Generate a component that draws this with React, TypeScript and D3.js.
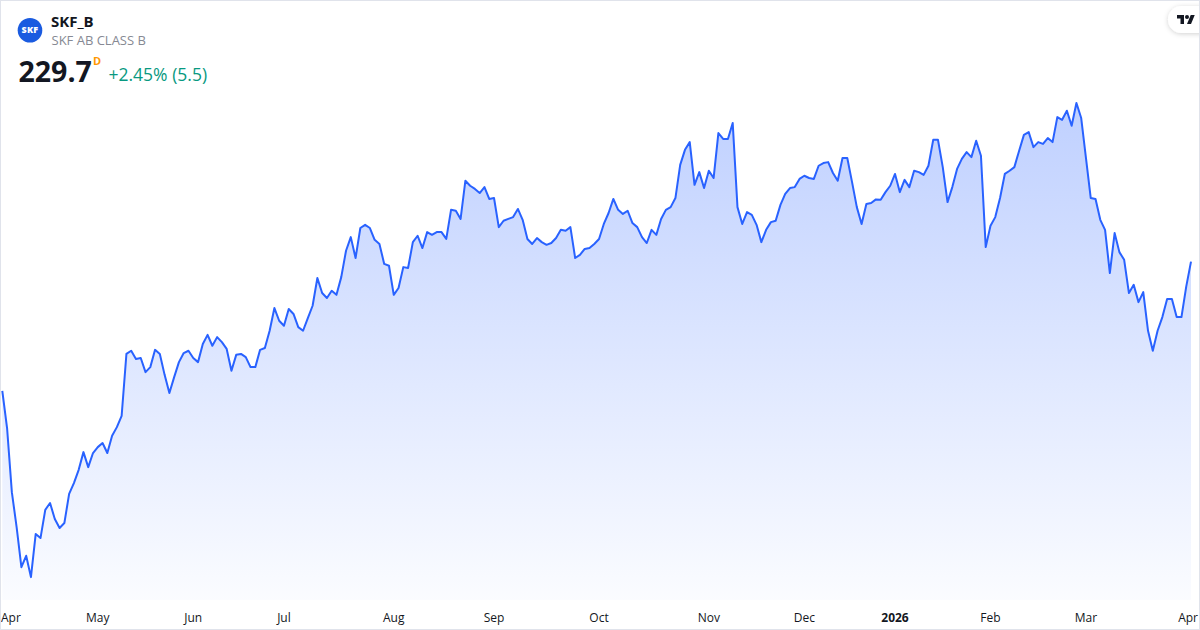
import React from "react";
import * as d3 from "d3";

// Daily closes (SEK), Apr 2025 – Apr 2026, one per trading day
const closes: number[] = [
  201.3, 193.1, 179.0, 171.3, 162.5, 165.0, 160.3, 169.8, 168.9, 175.1,
  176.6, 173.1, 171.1, 172.2, 178.6, 181.0, 183.9, 187.8, 184.5, 187.6,
  188.9, 189.8, 187.6, 191.4, 193.3, 195.8, 209.4, 210.1, 208.3, 208.5,
  205.4, 206.5, 210.3, 209.4, 204.8, 200.8, 204.3, 207.6, 209.6, 210.1,
  208.5, 207.6, 211.6, 213.6, 211.2, 213.1, 212.0, 210.5, 205.7, 209.2,
  209.4, 208.7, 206.5, 206.5, 210.3, 210.7, 214.5, 219.5, 216.7, 215.6,
  219.3, 218.2, 215.3, 214.5, 217.3, 220.0, 226.1, 222.8, 221.7, 223.3,
  222.4, 226.3, 232.1, 235.1, 230.5, 237.1, 237.8, 237.1, 234.5, 233.6,
  229.2, 228.8, 222.4, 223.9, 228.5, 228.3, 234.0, 235.4, 232.7, 236.2,
  235.6, 236.2, 236.2, 234.7, 241.1, 240.9, 239.1, 247.5, 246.4, 245.7,
  244.8, 246.1, 243.5, 243.7, 237.3, 238.7, 239.1, 239.5, 241.3, 238.9,
  234.7, 233.6, 234.9, 234.0, 233.4, 233.8, 234.9, 236.7, 236.5, 237.3,
  230.5, 231.2, 232.5, 232.7, 233.6, 234.7, 238.0, 240.4, 243.5, 241.1,
  240.2, 240.9, 238.2, 237.3, 235.1, 233.8, 236.7, 235.6, 239.1, 241.1,
  241.7, 243.7, 251.0, 254.3, 256.0, 246.6, 249.4, 245.9, 249.7, 248.1,
  258.0, 256.7, 256.7, 260.2, 241.7, 238.0, 240.6, 240.0, 237.8, 234.0,
  236.7, 238.4, 238.7, 242.2, 244.6, 245.9, 246.1, 247.9, 248.6, 248.1,
  247.9, 250.8, 251.4, 251.6, 249.2, 247.5, 252.5, 252.5, 247.2, 241.7,
  238.0, 242.4, 242.6, 243.4, 243.3, 245.0, 246.4, 249.0, 245.0, 247.7,
  246.1, 249.7, 249.4, 248.8, 250.8, 256.5, 256.5, 250.5, 242.8, 246.1,
  250.1, 252.3, 253.8, 252.7, 256.3, 253.0, 232.9, 237.6, 239.5, 243.7,
  249.0, 249.7, 250.5, 254.1, 257.6, 258.2, 254.9, 256.0, 255.6, 256.9,
  256.0, 261.5, 260.9, 262.9, 259.6, 264.6, 261.3, 252.5, 243.7, 243.5,
  238.9, 236.7, 227.2, 236.0, 231.8, 230.1, 222.8, 224.6, 220.8, 223.0,
  214.5, 210.1, 214.5, 217.5, 221.5, 221.5, 217.5, 217.5, 224.2, 229.7,
];

// Month labels and the trading-day index at which each month starts
const tickLabels: string[] = ["Apr", "May", "Jun", "Jul", "Aug", "Sep", "Oct", "Nov", "Dec", "2026", "Feb", "Mar", "Apr"];
const tickIndices: number[] = [0, 20, 40, 59, 82, 103, 125, 148, 168, 187, 207, 227, 248];
const boldTicks: string[] = ["2026"];

const symbol = "SKF_B";
const description = "SKF AB CLASS B";
const lastPrice = "229.7";
const changeText = "+2.45% (5.5)";

const W = 1200;
const H = 630;
const FONT = "'Open Sans', 'Noto Sans', sans-serif";

export default function App() {
  const x = d3.scaleLinear().domain([0, closes.length - 1]).range([2.3, 1191]);
  const y = d3.scaleLinear().domain([160, 265]).range([578.5, 101.2]);
  const baseY = 600;

  const line = d3
    .line<number>()
    .x((_, i) => x(i))
    .y((d) => y(d));
  const area = d3
    .area<number>()
    .x((_, i) => x(i))
    .y0(baseY)
    .y1((d) => y(d));

  React.useEffect(() => {
    document.body.style.margin = "0";
  }, []);

  return (
    <svg width={W} height={H} style={{ display: "block", position: "absolute", left: 0, top: 0 }} fontFamily={FONT}>
      <defs>
        <linearGradient id="fillGrad" x1="0" y1="100" x2="0" y2={baseY} gradientUnits="userSpaceOnUse">
          <stop offset="0" stopColor="#2962ff" stopOpacity={0.3} />
          <stop offset="1" stopColor="#2962ff" stopOpacity={0.02} />
        </linearGradient>
        <filter id="shadow" x="-50%" y="-50%" width="200%" height="200%">
          <feDropShadow dx="0" dy="1" stdDeviation="2.5" floodColor="#000" floodOpacity="0.18" />
        </filter>
      </defs>
      <rect x={0} y={0} width={W} height={H} fill="#ffffff" />

      <path d={area(closes) || ""} fill="url(#fillGrad)" />
      <path d={line(closes) || ""} fill="none" stroke="#2962ff" strokeWidth={2} strokeLinejoin="round" />

      {tickLabels.map((lab, k) => {
        const px = x(tickIndices[k]);
        let anchor: "start" | "middle" | "end" = "middle";
        let tx = px;
        if (k === 0) {
          anchor = "start";
          tx = 1;
        } else if (k === tickLabels.length - 1) {
          anchor = "end";
          tx = 1198;
        }
        return (
          <text
            key={k}
            x={tx}
            y={622}
            textAnchor={anchor}
            fontSize={12}
            fill="#131722"
            fontWeight={boldTicks.includes(lab) ? 700 : 400}
          >
            {lab}
          </text>
        );
      })}

      {/* header */}
      <circle cx={30} cy={30.3} r={12.3} fill="#1a5be0" />
      <text x={30} y={33.4} textAnchor="middle" fontSize={9} fontWeight={800} letterSpacing={0.2} fill="#ffffff">
        SKF
      </text>
      <text x={51} y={26.5} fontSize={15} fontWeight={700} fill="#131722">
        {symbol}
      </text>
      <text x={51.5} y={45} fontSize={13} fill="#868993">
        {description}
      </text>
      <text x={18.5} y={82} fontSize={28.5} fontWeight={700} fill="#131722">
        {lastPrice}
      </text>
      <text x={93} y={65} fontSize={11} fontWeight={700} fill="#ff9800">
        D
      </text>
      <text x={108.5} y={80.5} fontSize={17.5} fill="#089981">
        {changeText}
      </text>

      {/* top-right logo badge */}
      <rect x={1168} y={6} width={48} height={27} rx={13.5} fill="#ffffff" filter="url(#shadow)" />
      <g transform="translate(1177,15) scale(0.5)" fill="#131722">
        <path d="M14 18H7V7H0V0h14v18z" />
        <circle cx={20} cy={4} r={4} />
        <path d="M28 18h-8l7.5-18h8L28 18z" />
      </g>

      <rect x={0.5} y={0.5} width={W - 1} height={H - 1} fill="none" stroke="#e0e3eb" strokeWidth={1} />
    </svg>
  );
}
